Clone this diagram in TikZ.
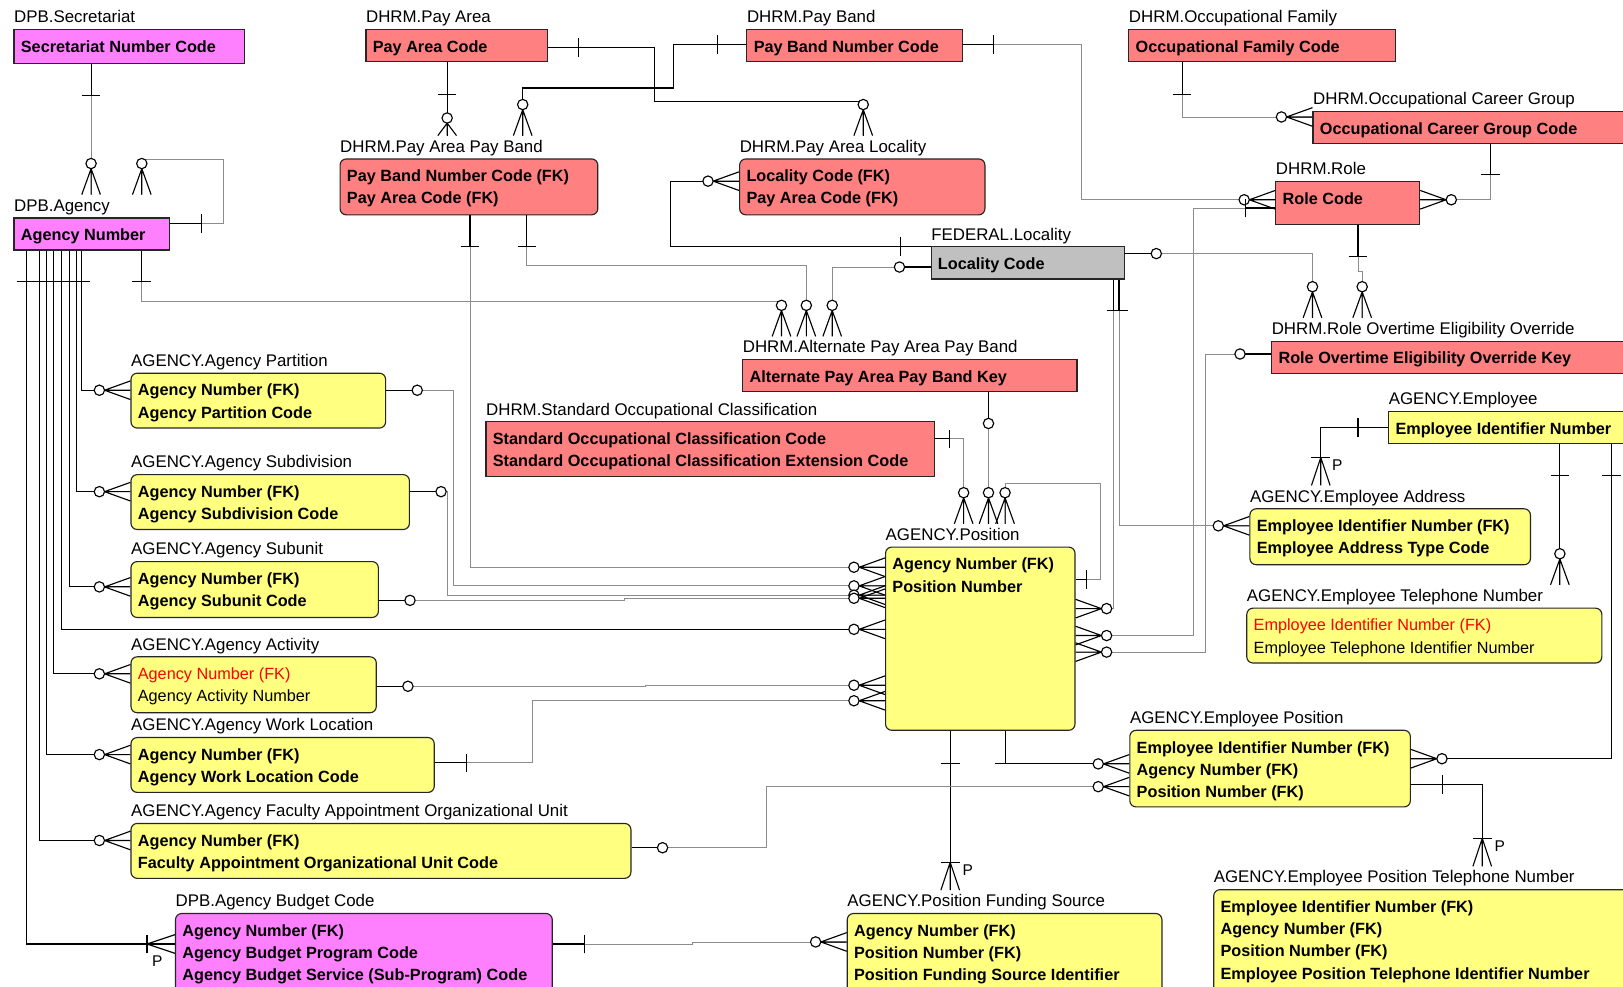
\documentclass[tikz,border=0pt]{standalone}
\usepackage{fontspec}
\setmainfont{Liberation Sans}
\usetikzlibrary{calc}

\definecolor{dpbpink}{HTML}{FF80FF}
\definecolor{dhrmred}{HTML}{FF8080}
\definecolor{fedgray}{HTML}{C0C0C0}
\definecolor{agyellow}{HTML}{FFFF80}

\tikzset{
  entbox/.style={draw=black!85, line width=1.1pt, anchor=north west, inner sep=0pt},
  indep/.style={entbox},
  dep/.style={entbox, rounded corners=6pt},
  enttitle/.style={anchor=base west, inner sep=0pt, font=\fontsize{16.3}{18}\selectfont},
  entattr/.style={anchor=base west, inner sep=0pt, font=\bfseries\fontsize{15.7}{18}\selectfont},
  idrel/.style={draw=black, line width=1.1pt},
  nonid/.style={draw=black!45, line width=0.8pt},
  sym/.style={draw=black, line width=1.1pt},
  plabel/.style={inner sep=0pt, font=\fontsize{15}{17}\selectfont},
  % zero or many
  zmany/.pic={
    \draw[sym] (0,-25) -- (-9,0) (0,-25) -- (0,0) (0,-25) -- (9,0);
    \draw[sym, fill=white] (0,-30) circle[radius=5pt];
  },
  zmanyshort/.pic={
    \draw[sym] (0,-12) -- (-9,0) (0,-12) -- (0,0) (0,-12) -- (9,0);
    \draw[sym, fill=white] (0,-17) circle[radius=5pt];
  },
  % one or many (P)
  pmany/.pic={
    \draw[sym] (0,-27) -- (-9,0) (0,-27) -- (0,0) (0,-27) -- (9,0);
    \draw[sym] (-9,-27) -- (9,-27);
  },
  % zero or one
  zone/.pic={
    \draw[sym] (0,0) -- (0,-25);
    \draw[sym, fill=white] (0,-30) circle[radius=5pt];
  },
  onebar/.pic={\draw[sym] (-9,0) -- (9,0);},
}

% name, x, y, width, height, style, title, attribute lines
\newcommand{\entity}[8]{%
  \node[#6, minimum width=#4pt, minimum height=#5pt] (#1) at (#2,#3) {};
  \node[enttitle] (#1-title) at ([xshift=0.5pt,yshift=6pt]#1.north west) {#7};
  \coordinate (#1-top) at ([yshift=22pt]#1.north west);
  \foreach \txt [count=\i] in {#8}
    \node[entattr] (#1-\i) at ([xshift=7pt,yshift={-22.5pt-(\i-1)*21.5pt}]#1.north west) {\txt};
}

\begin{document}
\begin{tikzpicture}[x=1pt,y=-1pt]
  \useasboundingbox (0,0) rectangle (1568,953);
  \fill[white] (0,0) rectangle (1568,953);
  \clip (0,0) rectangle (1568,953);

  % entities
  \entity{sec}{13}{28}{223}{33}{indep, fill=dpbpink}{DPB.Secretariat}{Secretariat Number Code}
  \entity{agy}{13}{210}{150}{31}{indep, fill=dpbpink}{DPB.Agency}{Agency Number}
  \entity{pa}{353}{28}{175}{31}{indep, fill=dhrmred}{DHRM.Pay Area}{Pay Area Code}
  \entity{pb}{721}{28}{208}{31}{indep, fill=dhrmred}{DHRM.Pay Band}{Pay Band Number Code}
  \entity{of}{1090}{28}{258}{31}{indep, fill=dhrmred}{DHRM.Occupational Family}{Occupational Family Code}
  \entity{ocg}{1268}{107}{340}{31}{indep, fill=dhrmred}{DHRM.Occupational Career Group}{Occupational Career Group Code}
  \entity{role}{1232}{175}{139}{41}{indep, fill=dhrmred}{DHRM.Role}{Role Code}
  \entity{papb}{328}{153}{249}{54}{dep, fill=dhrmred}{DHRM.Pay Area Pay Band}{Pay Band Number Code (FK), Pay Area Code (FK)}
  \entity{pal}{714}{153}{237}{54}{dep, fill=dhrmred}{DHRM.Pay Area Locality}{Locality Code (FK), Pay Area Code (FK)}
  \entity{loc}{899}{238}{187}{31}{indep, fill=fedgray}{FEDERAL.Locality}{Locality Code}
  \entity{apapb}{717}{347}{323}{31}{indep, fill=dhrmred}{DHRM.Alternate Pay Area Pay Band}{Alternate Pay Area Pay Band Key}
  \entity{soc}{469}{407}{433}{53}{indep, fill=dhrmred}{DHRM.Standard Occupational Classification}{Standard Occupational Classification Code, Standard Occupational Classification Extension Code}
  \entity{roeo}{1228}{329}{380}{31}{indep, fill=dhrmred}{DHRM.Role Overtime Eligibility Override}{Role Overtime Eligibility Override Key}
  \entity{emp}{1341}{397}{300}{31}{indep, fill=agyellow}{AGENCY.Employee}{Employee Identifier Number}
  \entity{ea}{1207}{491}{271}{54}{dep, fill=agyellow}{AGENCY.Employee Address}{Employee Identifier Number (FK), Employee Address Type Code}
  \entity{etn}{1204}{587}{343}{53}{dep, fill=agyellow}{AGENCY.Employee Telephone Number}{\mdseries\textcolor{red}{Employee Identifier Number (FK)}, \mdseries Employee Telephone Identifier Number}
  \entity{apart}{126}{360}{246}{53}{dep, fill=agyellow}{AGENCY.Agency Partition}{Agency Number (FK), Agency Partition Code}
  \entity{asub}{126}{458}{269}{53}{dep, fill=agyellow}{AGENCY.Agency Subdivision}{Agency Number (FK), Agency Subdivision Code}
  \entity{aunit}{126}{542}{239}{54}{dep, fill=agyellow}{AGENCY.Agency Subunit}{Agency Number (FK), Agency Subunit Code}
  \entity{aact}{126}{634}{237}{54}{dep, fill=agyellow}{AGENCY.Agency Activity}{\mdseries\textcolor{red}{Agency Number (FK)}, \mdseries Agency Activity Number}
  \entity{awl}{126}{712}{293}{53}{dep, fill=agyellow}{AGENCY.Agency Work Location}{Agency Number (FK), Agency Work Location Code}
  \entity{afou}{126}{795}{483}{53}{dep, fill=agyellow}{AGENCY.Agency Faculty Appointment Organizational Unit}{Agency Number (FK), Faculty Appointment Organizational Unit Code}
  \entity{abc}{169}{882}{364}{90}{dep, fill=dpbpink}{DPB.Agency Budget Code}{Agency Number (FK), Agency Budget Program Code, Agency Budget Service (Sub-Program) Code}
  \entity{pos}{855}{528}{183}{177}{dep, fill=agyellow}{AGENCY.Position}{Agency Number (FK), Position Number}
  \entity{ep}{1091}{705}{271}{74}{dep, fill=agyellow}{AGENCY.Employee Position}{Employee Identifier Number (FK), Agency Number (FK), Position Number (FK)}
  \entity{pfs}{818}{882}{304}{90}{dep, fill=agyellow}{AGENCY.Position Funding Source}{Agency Number (FK), Position Number (FK), Position Funding Source Identifier}
  \entity{eptn}{1172}{859}{420}{120}{dep, fill=agyellow}{AGENCY.Employee Position Telephone Number}{Employee Identifier Number (FK), Agency Number (FK), Position Number (FK), Employee Position Telephone Identifier Number}

  % Secretariat - Agency
  \draw[idrel] (88,0 |- sec.south) -- (88,92);
  \draw[nonid] (88,92) -- (88,0 |- agy-top);
  \pic at (88,92) {onebar};
  \pic at (88,0 |- agy-top) {zmany};

  % Agency - Agency
  \draw[idrel] (agy.east |- 0,216) -- (195,216);
  \draw[nonid] (195,216) -| (216,154) -| (137,0 |- agy-top);
  \pic[rotate=90] at (195,216) {onebar};
  \pic at (137,0 |- agy-top) {zmany};

  % Agency - Alternate Pay Area Pay Band
  \draw[idrel] (137,0 |- agy.south) -- (137,272);
  \draw[nonid] (137,272) |- (755,291) -- (755,0 |- apapb-top);
  \pic at (137,272) {onebar};
  \pic at (755,0 |- apapb-top) {zmany};

  % Agency children
  \draw[idrel] (59,0 |- agy.south) |- (pos.west |- 0,608);
  \pic[rotate=90] at (pos.west |- 0,608) {zmany};
  \foreach \xx/\yy/\dst in {79/377/apart, 74/475/asub, 67/567/aunit, 52/651/aact, 45/729/awl, 38/812/afou} {
    \draw[idrel] (\xx,0 |- agy.south) |- (\dst.west |- 0,\yy);
    \pic[rotate=90] at (\dst.west |- 0,\yy) {zmany};
  }
  \draw[idrel] (26,0 |- agy.south) |- (abc.west |- 0,912);
  \pic[rotate=90] at (abc.west |- 0,912) {pmany};
  \node[plabel] (abcP) at (152,929) {P};
  \draw[sym] (16,272) -- (87,272);

  % Pay Area - Pay Area Pay Band
  \draw[idrel] (432,0 |- pa.south) -- (432,0 |- papb-top);
  \pic at (432,91) {onebar};
  \pic at (432,0 |- papb-top) {zmanyshort};

  % Pay Band - Pay Area Pay Band
  \draw[idrel] (pb.west |- 0,43) -| (651,85) -| (505,0 |- papb-top);
  \pic[rotate=90] at (693,43) {onebar};
  \pic at (505,0 |- papb-top) {zmany};

  % Pay Area - Pay Area Locality
  \draw[idrel] (pa.east |- 0,46) -| (632,98) -| (834,0 |- pal-top);
  \pic[rotate=90] at (559,46) {onebar};
  \pic at (834,0 |- pal-top) {zmany};

  % Locality - Pay Area Locality
  \draw[idrel] (loc.north west) -| (648,175) -- (pal.west |- 0,175);
  \pic[rotate=90] at (870,238) {onebar};
  \pic[rotate=90] at (pal.west |- 0,175) {zmany};

  % Pay Area Pay Band - Position, Alternate Pay Area Pay Band
  \draw[idrel] (454,0 |- papb.south) -- (454,238);
  \draw[nonid] (454,238) |- (pos.west |- 0,548);
  \pic at (454,238) {onebar};
  \pic[rotate=90] at (pos.west |- 0,548) {zmany};
  \draw[idrel] (509,0 |- papb.south) -- (509,238);
  \draw[nonid] (509,238) |- (779,256) -- (779,0 |- apapb-top);
  \pic at (509,238) {onebar};
  \pic at (779,0 |- apapb-top) {zmany};

  % Locality - Alternate Pay Area Pay Band
  \draw[nonid] (loc.west |- 0,258) -| (804,0 |- apapb-top);
  \pic[rotate=90] at (loc.west |- 0,258) {zone};
  \pic at (804,0 |- apapb-top) {zmany};

  % Locality - Role Overtime Eligibility Override
  \draw[nonid] (loc.east |- 0,245) -| (1268,0 |- roeo-top);
  \pic[rotate=-90] at (loc.east |- 0,245) {zone};
  \pic at (1268,0 |- roeo-top) {zmany};

  % Role - Role Overtime Eligibility Override
  \draw[idrel] (1312,0 |- role.south) -- (1312,248);
  \draw[nonid] (1312,248) -- (1312,262) -- (1316,262) -- (1316,0 |- roeo-top);
  \pic at (1312,248) {onebar};
  \pic at (1316,0 |- roeo-top) {zmany};

  % Occupational Family - Occupational Career Group
  \draw[idrel] (1142,0 |- of.south) -- (1142,91);
  \draw[nonid] (1142,91) |- (ocg.west |- 0,113);
  \pic at (1142,91) {onebar};
  \pic[rotate=90] at (ocg.west |- 0,113) {zmany};

  % Occupational Career Group - Role
  \draw[idrel] (1440,0 |- ocg.south) -- (1440,169);
  \draw[nonid] (1440,169) |- (role.east |- 0,193);
  \pic at (1440,169) {onebar};
  \pic[rotate=-90] at (role.east |- 0,193) {zmany};

  % Pay Band - Role
  \draw[idrel] (pb.east |- 0,43) -- (960,43);
  \draw[nonid] (960,43) -| (1045,193) -- (role.west |- 0,193);
  \pic[rotate=90] at (960,43) {onebar};
  \pic[rotate=90] at (role.west |- 0,193) {zmany};

  % Role - Position
  \draw[idrel] (role.west |- 0,201) -- (1203,201);
  \draw[nonid] (1203,201) -| (1153,614) -- (pos.east |- 0,614);
  \pic[rotate=90] at (1203,201) {onebar};
  \pic[rotate=-90] at (pos.east |- 0,614) {zmany};

  % Role Overtime Eligibility Override - Position
  \draw[nonid] (roeo.west |- 0,342) -| (1165,630) -- (pos.east |- 0,630);
  \pic[rotate=90] at (roeo.west |- 0,342) {zone};
  \pic[rotate=-90] at (pos.east |- 0,630) {zmany};

  % Locality - Position, Employee Address
  \draw[idrel] (1076,0 |- loc.south) -- (1076,300);
  \draw[nonid] (1076,300) |- (pos.east |- 0,588);
  \pic[rotate=-90] at (pos.east |- 0,588) {zmany};
  \draw[idrel] (1081,0 |- loc.south) -- (1081,300);
  \draw[nonid] (1081,300) |- (ea.west |- 0,508);
  \pic[rotate=90] at (ea.west |- 0,508) {zmany};
  \draw[sym] (1069,300) -- (1090,300);

  % Alternate Pay Area Pay Band - Position
  \draw[nonid] (955,0 |- apapb.south) -- (955,0 |- pos-top);
  \pic[rotate=180] at (955,0 |- apapb.south) {zone};
  \pic at (955,0 |- pos-top) {zmany};

  % Standard Occupational Classification - Position
  \draw[idrel] (soc.east |- 0,424) -- (917,424);
  \draw[nonid] (917,424) -| (931,0 |- pos-top);
  \pic[rotate=90] at (917,424) {onebar};
  \pic at (931,0 |- pos-top) {zmany};

  % Position - Position
  \draw[idrel] (pos.east |- 0,560) -- (1050,560);
  \draw[nonid] (1050,560) -| (1063,467) -| (971,0 |- pos-top);
  \pic[rotate=90] at (1050,560) {onebar};
  \pic at (971,0 |- pos-top) {zmany};

  % agency children - Position
  \draw[nonid] (apart.east |- 0,377) -| (438,566) -- (pos.west |- 0,566);
  \pic[rotate=-90] at (apart.east |- 0,377) {zone};
  \pic[rotate=90] at (pos.west |- 0,566) {zmany};
  \draw[nonid] (asub.east |- 0,475) -| (432,575) -- (pos.west |- 0,575);
  \pic[rotate=-90] at (asub.east |- 0,475) {zone};
  \pic[rotate=90] at (pos.west |- 0,575) {zmany};
  \draw[nonid] (aunit.east |- 0,580) -- (603,580) -- (603,578) -- (pos.west |- 0,578);
  \pic[rotate=-90] at (aunit.east |- 0,580) {zone};
  \pic[rotate=90] at (pos.west |- 0,578) {zmany};
  \draw[nonid] (aact.east |- 0,663) -- (624,663) -- (624,662) -- (pos.west |- 0,662);
  \pic[rotate=-90] at (aact.east |- 0,663) {zone};
  \pic[rotate=90] at (pos.west |- 0,662) {zmany};
  \draw[idrel] (awl.east |- 0,737) -- (451,737);
  \draw[nonid] (451,737) -| (514,677) -- (pos.west |- 0,677);
  \pic[rotate=90] at (451,737) {onebar};
  \pic[rotate=90] at (pos.west |- 0,677) {zmany};

  % Position - Employee Position, Position Funding Source
  \draw[idrel] (971,0 |- pos.south) |- (ep.west |- 0,738);
  \draw[sym] (961,738) -- (979,738);
  \pic[rotate=90] at (ep.west |- 0,738) {zmany};
  \draw[idrel] (918,0 |- pos.south) -- (918,0 |- pfs-top);
  \pic at (918,738) {onebar};
  \pic at (918,0 |- pfs-top) {pmany};
  \node[plabel] (pfsP) at (935,841) {P};

  % Faculty Appointment Organizational Unit - Employee Position
  \draw[nonid] (afou.east |- 0,819) -| (740,760) -- (ep.west |- 0,760);
  \pic[rotate=-90] at (afou.east |- 0,819) {zone};
  \pic[rotate=90] at (ep.west |- 0,760) {zmany};

  % Agency Budget Code - Position Funding Source
  \draw[idrel] (abc.east |- 0,912) -- (565,912);
  \draw[nonid] (565,912) -- (669,912) -- (669,910) -- (pfs.west |- 0,910);
  \pic[rotate=90] at (565,912) {onebar};
  \pic[rotate=90] at (pfs.west |- 0,910) {zmany};

  % Employee children
  \draw[idrel] (emp.west |- 0,413) -| (1276,0 |- ea-top);
  \pic[rotate=90] at (1312,413) {onebar};
  \pic at (1276,0 |- ea-top) {pmany};
  \node[plabel] (eaP) at (1292,449) {P};
  \draw[idrel] (1507,0 |- emp.south) -- (1507,0 |- etn-top);
  \pic at (1507,459) {onebar};
  \pic at (1507,0 |- etn-top) {zmany};
  \draw[idrel] (1557,0 |- emp.south) |- (ep.east |- 0,733);
  \pic at (1557,459) {onebar};
  \pic[rotate=-90] at (ep.east |- 0,733) {zmany};

  % Employee Position - Employee Position Telephone Number
  \draw[idrel] (ep.east |- 0,758) -| (1432,0 |- eptn-top);
  \pic[rotate=90] at (1394,758) {onebar};
  \pic at (1432,0 |- eptn-top) {pmany};
  \node[plabel] (eptnP) at (1449,817) {P};
\end{tikzpicture}
\end{document}
